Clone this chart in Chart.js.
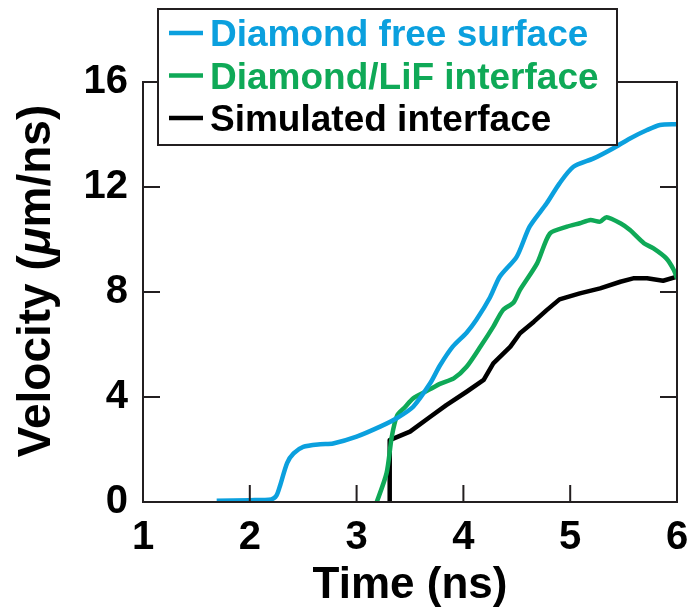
<!DOCTYPE html>
<html>
<head>
<meta charset="utf-8">
<script src="https://cdn.jsdelivr.net/npm/chart.js@4.4.0/dist/chart.umd.min.js"></script>
<style>
  html, body { margin: 0; padding: 0; background: #fff; }
  #wrap { width: 692px; height: 612px; }
</style>
</head>
<body>
<div id="wrap"><canvas id="vel" width="692" height="612"></canvas></div>
<script>
// Time (ns) / velocity (um/ns) traces
const timeFree = [1.69, 2.0, 2.2, 2.25, 2.28, 2.35, 2.41, 2.5, 2.66, 2.78, 3.0, 3.22, 3.375, 3.53, 3.69, 3.78, 3.9, 4.03, 4.12, 4.25, 4.34, 4.5, 4.62, 4.78, 4.9, 5.03, 5.22, 5.4, 5.56, 5.72, 5.84, 6.0];
const velFree = [0.05, 0.07, 0.1, 0.25, 0.58, 1.49, 1.85, 2.1, 2.2, 2.23, 2.49, 2.87, 3.19, 3.63, 4.53, 5.2, 5.92, 6.45, 6.93, 7.8, 8.58, 9.35, 10.49, 11.38, 12.14, 12.77, 13.09, 13.47, 13.85, 14.17, 14.36, 14.39];

const timeLiF = [3.18, 3.28, 3.33, 3.38, 3.45, 3.53, 3.69, 3.78, 3.91, 4.03, 4.16, 4.28, 4.37, 4.47, 4.53, 4.69, 4.81, 4.97, 5.09, 5.19, 5.28, 5.34, 5.47, 5.56, 5.69, 5.78, 5.9, 5.97, 6.0];
const velLiF = [-0.1, 1.09, 2.5, 3.3, 3.6, 3.95, 4.3, 4.5, 4.71, 5.15, 5.92, 6.68, 7.31, 7.6, 8.08, 9.09, 10.23, 10.49, 10.62, 10.74, 10.68, 10.85, 10.62, 10.36, 9.86, 9.66, 9.28, 8.84, 8.52];

const timeSim = [3.31, 3.31, 3.5, 3.69, 3.84, 4.03, 4.19, 4.28, 4.44, 4.53, 4.66, 4.78, 4.9, 5.09, 5.28, 5.47, 5.59, 5.72, 5.87, 6.0];
const velSim = [-0.15, 2.36, 2.68, 3.25, 3.69, 4.2, 4.65, 5.28, 5.92, 6.43, 6.87, 7.31, 7.72, 7.95, 8.14, 8.39, 8.52, 8.52, 8.43, 8.58];

const seriesNames = ['Diamond free surface', 'Diamond/LiF interface', 'Simulated interface'];
const seriesColors = ['#0ba0de', '#0fa957', '#000000'];

const xTicks = [1, 2, 3, 4, 5, 6];
const yTicks = [0, 4, 8, 12, 16];

const FONT = 'Liberation Sans';
const AXIS_COLOR = '#231f20';

function toPoints(xs, ys) {
    return xs.map((x, i) => ({ x: x, y: ys[i] }));
}

// frame round the plot with inward tick marks (y ticks on both sides)
const frameTicks = {
    id: 'frameTicks',
    afterDatasetsDraw(chart) {
        const ctx = chart.ctx;
        const a = chart.chartArea;
        const xs = chart.scales.x;
        const ys = chart.scales.y;
        const len = 17;
        ctx.save();
        ctx.strokeStyle = AXIS_COLOR;
        ctx.lineWidth = 2;
        ctx.strokeRect(a.left, a.top, a.right - a.left, a.bottom - a.top);
        ctx.beginPath();
        xTicks.forEach(v => {
            const px = xs.getPixelForValue(v);
            ctx.moveTo(px, a.bottom);
            ctx.lineTo(px, a.bottom - len);
        });
        yTicks.forEach(v => {
            const py = ys.getPixelForValue(v);
            ctx.moveTo(a.left, py);
            ctx.lineTo(a.left + len, py);
            ctx.moveTo(a.right, py);
            ctx.lineTo(a.right - len, py);
        });
        ctx.stroke();
        ctx.restore();
    }
};

// y axis title, with the mu set in italic
const velocityTitle = {
    id: 'velocityTitle',
    afterDraw(chart) {
        const ctx = chart.ctx;
        const size = 46;
        const parts = [
            { text: 'Velocity (', font: 'bold ' + size + 'px "' + FONT + '"' },
            { text: '\u03bc', font: 'italic bold ' + size + 'px "' + FONT + '"' },
            { text: 'm/ns)', font: 'bold ' + size + 'px "' + FONT + '"' }
        ];
        ctx.save();
        let total = 0;
        parts.forEach(p => { ctx.font = p.font; p.w = ctx.measureText(p.text).width; total += p.w; });
        ctx.translate(50, 281);
        ctx.rotate(-Math.PI / 2);
        ctx.fillStyle = '#000';
        ctx.textBaseline = 'alphabetic';
        let x = -total / 2;
        parts.forEach(p => { ctx.font = p.font; ctx.fillText(p.text, x, 0); x += p.w; });
        ctx.restore();
    }
};

// boxed legend sitting over the top-left corner of the frame
const boxLegend = {
    id: 'boxLegend',
    afterDraw(chart) {
        const ctx = chart.ctx;
        const box = { left: 158, top: 9, right: 617, bottom: 145 };
        ctx.save();
        ctx.fillStyle = '#fff';
        ctx.fillRect(box.left, box.top, box.right - box.left, box.bottom - box.top);
        ctx.strokeStyle = AXIS_COLOR;
        ctx.lineWidth = 2;
        ctx.strokeRect(box.left, box.top, box.right - box.left, box.bottom - box.top);
        ctx.font = 'bold 37px "' + FONT + '"';
        ctx.textBaseline = 'alphabetic';
        chart.data.datasets.forEach((ds, i) => {
            const y = 33 + i * 42.5;
            ctx.strokeStyle = ds.borderColor;
            ctx.lineWidth = 4.5;
            ctx.beginPath();
            ctx.moveTo(169, y);
            ctx.lineTo(203, y);
            ctx.stroke();
            ctx.fillStyle = ds.borderColor;
            ctx.fillText(ds.label, 210, y + 13);
        });
        ctx.restore();
    }
};

const ctx = document.getElementById('vel').getContext('2d');
const chart = new Chart(ctx, {
    type: 'scatter',
    data: {
        datasets: [
            { label: seriesNames[0], data: toPoints(timeFree, velFree), borderColor: seriesColors[0], tension: 0.25 },
            { label: seriesNames[1], data: toPoints(timeLiF, velLiF), borderColor: seriesColors[1], tension: 0.25 },
            { label: seriesNames[2], data: toPoints(timeSim, velSim), borderColor: seriesColors[2], tension: 0 }
        ].map(ds => Object.assign(ds, {
            showLine: true,
            borderWidth: 4.5,
            pointRadius: 0,
            backgroundColor: ds.borderColor,
            borderCapStyle: 'butt',
            borderJoinStyle: 'round'
        }))
    },
    options: {
        responsive: false,
        animation: false,
        layout: { padding: { top: 82, right: 15, left: 0, bottom: 0 } },
        plugins: {
            legend: { display: false },
            tooltip: { enabled: false }
        },
        scales: {
            x: {
                type: 'linear',
                min: 1,
                max: 6,
                afterBuildTicks: s => { s.ticks = xTicks.map(v => ({ value: v })); },
                afterFit: s => { s.height = 110; s.paddingLeft = 0; s.paddingRight = 0; },
                grid: { display: false, drawTicks: false },
                border: { display: false },
                ticks: {
                    padding: 12,
                    color: '#000',
                    font: { family: FONT, size: 40, weight: 'bold' }
                },
                title: {
                    display: true,
                    text: 'Time (ns)',
                    color: '#000',
                    padding: { top: 0, bottom: 0 },
                    font: { family: FONT, size: 44, weight: 'bold' }
                }
            },
            y: {
                type: 'linear',
                min: 0,
                max: 16,
                afterBuildTicks: s => { s.ticks = yTicks.map(v => ({ value: v })); },
                afterFit: s => { s.width = 143; s.paddingTop = 0; s.paddingBottom = 0; },
                grid: { display: false, drawTicks: false },
                border: { display: false },
                ticks: {
                    padding: 15,
                    color: '#000',
                    font: { family: FONT, size: 40, weight: 'bold' }
                }
            }
        }
    },
    plugins: [frameTicks, velocityTitle, boxLegend]
});
</script>
</body>
</html>
